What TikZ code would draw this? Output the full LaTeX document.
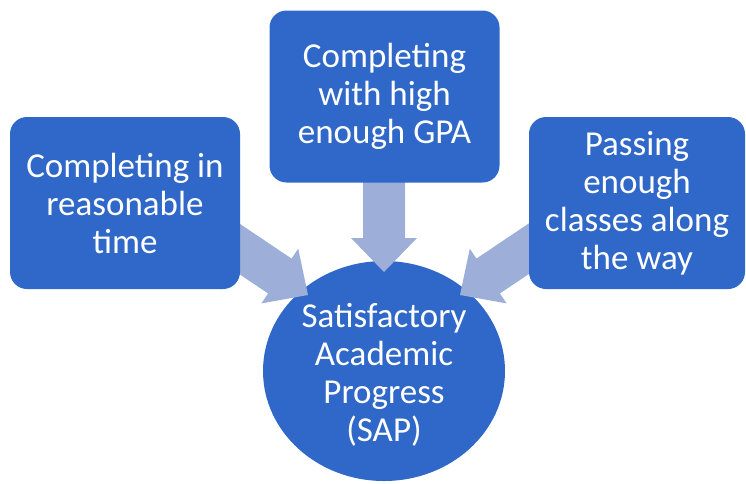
\documentclass[tikz,border=0pt]{standalone}
\usepackage{fontspec}
\setmainfont{Carlito}
\usetikzlibrary{shapes.geometric,calc}
\definecolor{boxblue}{RGB}{47,104,200}
\definecolor{arrowblue}{RGB}{157,174,216}
\tikzset{
  box/.style={rectangle, rounded corners=17pt, fill=boxblue, text=white,
    align=center, minimum width=230pt, minimum height=172pt, inner sep=0pt,
    font=\fontsize{35}{38}\selectfont},
  goal/.style={ellipse, fill=boxblue, minimum width=242pt, minimum height=220pt, inner sep=0pt},
  goaltext/.style={text=white, align=center, inner sep=0pt,
    font=\fontsize{35}{38}\selectfont},
  arrowfill/.style={fill=arrowblue}
}
\newcommand{\blockarr}[2]{% #1 tail, #2 tip
  \path ($(#2)!34pt!(#1)$) coordinate (ab);
  \fill[arrowfill] ($(#1)!21pt!90:(#2)$) -- ($(ab)!21pt!90:(#2)$)
    -- ($(ab)!33pt!90:(#2)$) -- (#2) -- ($(ab)!33pt!-90:(#2)$)
    -- ($(ab)!21pt!-90:(#2)$) -- ($(#1)!21pt!-90:(#2)$) -- cycle;}
\begin{document}
\begin{tikzpicture}[x=1pt,y=-1pt]
\useasboundingbox (0,0) rectangle (746,483);
% goal
\node[goal] (sap) at (384,371) {};
\node[goaltext] (saptext) at ($(sap.center)+(0,4)$) {Satisfactory\\Academic\\Progress\\(SAP)};
% arrow end points
\coordinate (tailL) at (197.6,220.7);
\coordinate (tipL) at (308,295);
\coordinate (tailT) at (384,150);
\coordinate (tipT) at (384,272);
\coordinate (tailR) at (570.4,220.7);
\coordinate (tipR) at (460,295);
\blockarr{tailL}{tipL}
\blockarr{tailT}{tipT}
\blockarr{tailR}{tipR}
% boxes
\node[box] (left) at (125,203) {Completing in\\reasonable\\time};
\node[box] (top) at (384.5,96.5) {Completing\\with high\\enough GPA};
\node[box, minimum width=216pt] (right) at (637,203) {Passing\\enough\\classes along\\the way};
\end{tikzpicture}
\end{document}
